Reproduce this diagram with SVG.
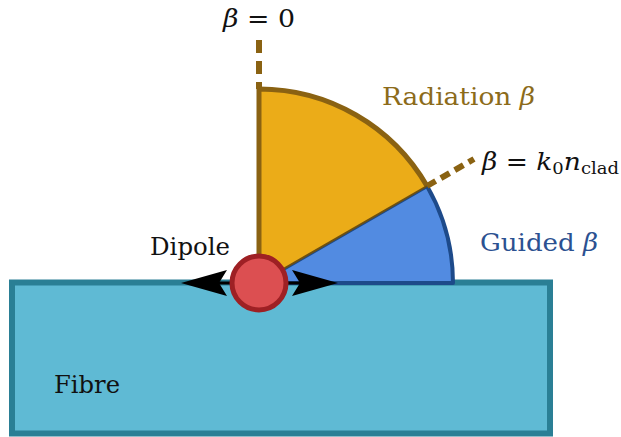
<svg xmlns="http://www.w3.org/2000/svg" width="621" height="437" viewBox="0 0 621 437">
<style>
.t{font-family:'DejaVu Serif',serif;font-size:25px;fill:#111}
.it{font-style:italic}
.dash{stroke:#8A6212;stroke-width:6;fill:none}
</style>
<rect width="621" height="437" fill="#fff"/>
<g id="fibre">
<rect x="12" y="282.5" width="538" height="151" fill="#5FBAD4" stroke="#2A7F95" stroke-width="6"/>
<text class="t" x="54" y="393" textLength="66" lengthAdjust="spacingAndGlyphs">Fibre</text>
</g>
<g id="guided">
<path d="M259,283 L453,283 A194,194 0 0 0 427,186 Z" fill="#528BE1" stroke="#1D4A8A" stroke-width="4" stroke-linejoin="round"/>
<text class="t" x="480" y="251" style="fill:#2B5191" textLength="118" lengthAdjust="spacingAndGlyphs">Guided <tspan class="it">β</tspan></text>
</g>
<g id="radiation">
<path d="M259,283 L427,186 A194,194 0 0 0 259,89 Z" fill="#EBAC18"/>
<path d="M427,186 A194,194 0 0 0 259,89 L259,283" fill="none" stroke="#8A6212" stroke-width="5"/>
<line x1="259" y1="283" x2="427" y2="186" stroke="#6E5010" stroke-width="2"/>
<text class="t" x="382" y="105" style="fill:#8C6B1A" textLength="153" lengthAdjust="spacingAndGlyphs">Radiation <tspan class="it">β</tspan></text>
</g>
<g id="connectors">
<line class="dash" x1="259" y1="40" x2="259" y2="89" stroke-dasharray="13 8"/>
<line class="dash" x1="427" y1="186" x2="474" y2="159" stroke-dasharray="10 6"/>
<line x1="200" y1="283" x2="320" y2="283" stroke="#000" stroke-width="3"/>
<path d="M181,283 L227,270 L219,283 L227,296 Z" fill="#000"/>
<path d="M338,283 L292,270 L300,283 L292,296 Z" fill="#000"/>
</g>
<g id="labels">
<text class="t" x="223" y="27" textLength="72" lengthAdjust="spacingAndGlyphs"><tspan class="it">β</tspan> = 0</text>
<text class="t" x="482" y="170" textLength="137" lengthAdjust="spacingAndGlyphs"><tspan class="it">β</tspan> = <tspan class="it">k</tspan><tspan font-size="17" dy="4">0</tspan><tspan class="it" dy="-4">n</tspan><tspan font-size="17" dy="4">clad</tspan></text>
</g>
<g id="dipole">
<circle cx="259" cy="283" r="27" fill="#DC4F51" stroke="#9E2024" stroke-width="5"/>
<text class="t" x="150" y="255" textLength="80" lengthAdjust="spacingAndGlyphs">Dipole</text>
</g>
</svg>
